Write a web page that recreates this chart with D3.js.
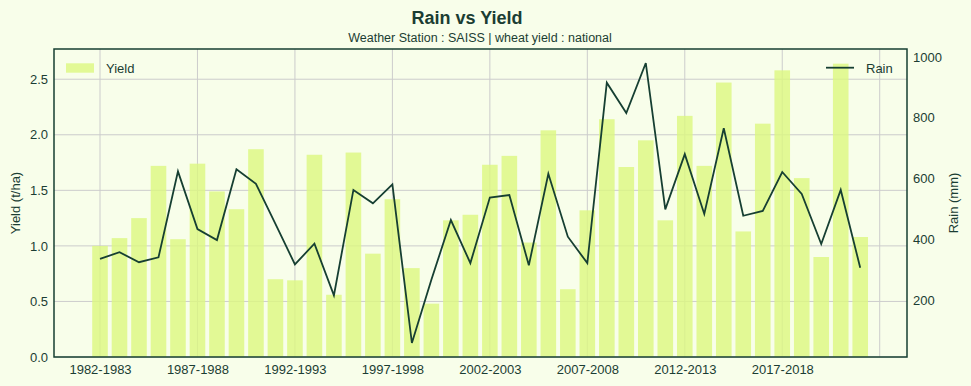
<!DOCTYPE html>
<html>
<head>
<meta charset="utf-8">
<script src="https://cdn.jsdelivr.net/npm/d3@7"></script>
<style>
  body { margin: 0; background: #f8feea; }
  text { font-family: "Liberation Sans", Arial, sans-serif; fill: #1b3d33; }
</style>
</head>
<body>
<svg id="main-svg"></svg>
<script>
let seasons = d3.range(1982, 2022).map(y => `${y}-${y + 1}`);
let yieldValues = [1.00, 1.07, 1.25, 1.72, 1.06, 1.74, 1.49, 1.33, 1.87, 0.70,
  0.69, 1.82, 0.56, 1.84, 0.93, 1.42, 0.80, 0.48, 1.23, 1.28,
  1.73, 1.81, 1.03, 2.04, 0.61, 1.32, 2.14, 1.71, 1.95, 1.23,
  2.17, 1.72, 2.47, 1.13, 2.10, 2.58, 1.61, 0.90, 2.64, 1.08];
let rainValues = [335, 357, 324, 340, 623, 433, 397, 630, 582, 450,
  317, 385, 215, 562, 518, 580, 58, 266, 463, 321,
  537, 545, 314, 615, 408, 321, 915, 815, 980, 498,
  680, 483, 765, 477, 493, 621, 549, 384, 562, 306];
let yieldTicks = [0, 0.5, 1.0, 1.5, 2.0, 2.5];
let rainTicks = [200, 400, 600, 800, 1000];
let xTickIndex = [0, 5, 10, 15, 20, 25, 30, 35, 40];

let width = 971;
let height = 386;
let plotLeft = 54, plotRight = 907, plotTop = 49, plotBottom = 357;
let dark = '#163f32';
let fontSize = '13px';

let svg = d3.select('#main-svg')
  .attr('width', width)
  .attr('height', height);

let x = d3.scaleLinear().domain([-2.36, 41.4]).range([plotLeft, plotRight]);
let yYield = d3.scaleLinear().domain([0, d3.max(yieldValues) * 1.05]).range([plotBottom, plotTop]);
let rainMin = d3.min(rainValues), rainMax = d3.max(rainValues);
let pad = (rainMax - rainMin) * 0.05;
let yRain = d3.scaleLinear().domain([rainMin - pad, rainMax + pad]).range([plotBottom, plotTop]);

// grid
let grid = svg.append('g').style('stroke', '#cccccc').style('stroke-width', 1);
grid.selectAll('.vx').data(xTickIndex).join('line')
  .attr('x1', d => x(d)).attr('x2', d => x(d))
  .attr('y1', plotTop).attr('y2', plotBottom);
grid.selectAll('.hy').data(yieldTicks).join('line')
  .attr('x1', plotLeft).attr('x2', plotRight)
  .attr('y1', d => yYield(d)).attr('y2', d => yYield(d));

// bars
let barW = x(0.8) - x(0);
svg.append('g').selectAll('rect').data(yieldValues).join('rect')
  .attr('x', (d, i) => x(i) - barW / 2)
  .attr('width', barW)
  .attr('y', d => yYield(d))
  .attr('height', d => plotBottom - yYield(d))
  .style('fill', '#dcf87f')
  .style('opacity', 0.8);

// rain line
let line = d3.line().x((d, i) => x(i)).y(d => yRain(d));
svg.append('path').datum(rainValues)
  .attr('d', line)
  .style('fill', 'none')
  .style('stroke', dark)
  .style('stroke-width', 1.8);

// frame
svg.append('rect')
  .attr('x', plotLeft).attr('y', plotTop)
  .attr('width', plotRight - plotLeft).attr('height', plotBottom - plotTop)
  .style('fill', 'none').style('stroke', dark).style('stroke-width', 1.5);

// axes
let leftAxis = d3.axisLeft(yYield).tickValues(yieldTicks).tickFormat(d3.format('.1f')).tickSize(0).tickPadding(6);
let rightAxis = d3.axisRight(yRain).tickValues(rainTicks).tickFormat(d3.format('d')).tickSize(0).tickPadding(6);
let bottomAxis = d3.axisBottom(x).tickValues(xTickIndex).tickFormat(i => seasons[i] || '').tickSize(0).tickPadding(8);

[[leftAxis, `translate(${plotLeft},0)`], [rightAxis, `translate(${plotRight},0)`], [bottomAxis, `translate(0,${plotBottom})`]]
  .forEach(([axis, tr]) => {
    let g = svg.append('g').attr('transform', tr).call(axis);
    g.select('.domain').remove();
    g.selectAll('text').style('font-size', fontSize).style('fill', '#1b3d33')
      .style('font-family', '"Liberation Sans", Arial, sans-serif');
  });

// labels
svg.append('text').attr('x', 467).attr('y', 24).attr('text-anchor', 'middle')
  .style('font-size', '18px').style('font-weight', 'bold').text('Rain vs Yield');
svg.append('text').attr('x', 480).attr('y', 41.5).attr('text-anchor', 'middle')
  .style('font-size', '12.5px').text('Weather Station : SAISS | wheat yield : national');
svg.append('text').attr('transform', `translate(20,${(plotTop + plotBottom) / 2}) rotate(-90)`)
  .attr('text-anchor', 'middle').style('font-size', fontSize).text('Yield (t/ha)');
svg.append('text').attr('transform', `translate(958,${(plotTop + plotBottom) / 2}) rotate(-90)`)
  .attr('text-anchor', 'middle').style('font-size', fontSize).text('Rain (mm)');

// legends
svg.append('rect').attr('x', 66).attr('y', 63.3).attr('width', 28).attr('height', 9.4)
  .style('fill', '#dcf87f').style('opacity', 0.8);
svg.append('text').attr('x', 106).attr('y', 73).style('font-size', fontSize).text('Yield');
svg.append('line').attr('x1', 826).attr('x2', 854).attr('y1', 67.7).attr('y2', 67.7)
  .style('stroke', dark).style('stroke-width', 1.8);
svg.append('text').attr('x', 866).attr('y', 73).style('font-size', fontSize).text('Rain');
</script>
</body>
</html>
